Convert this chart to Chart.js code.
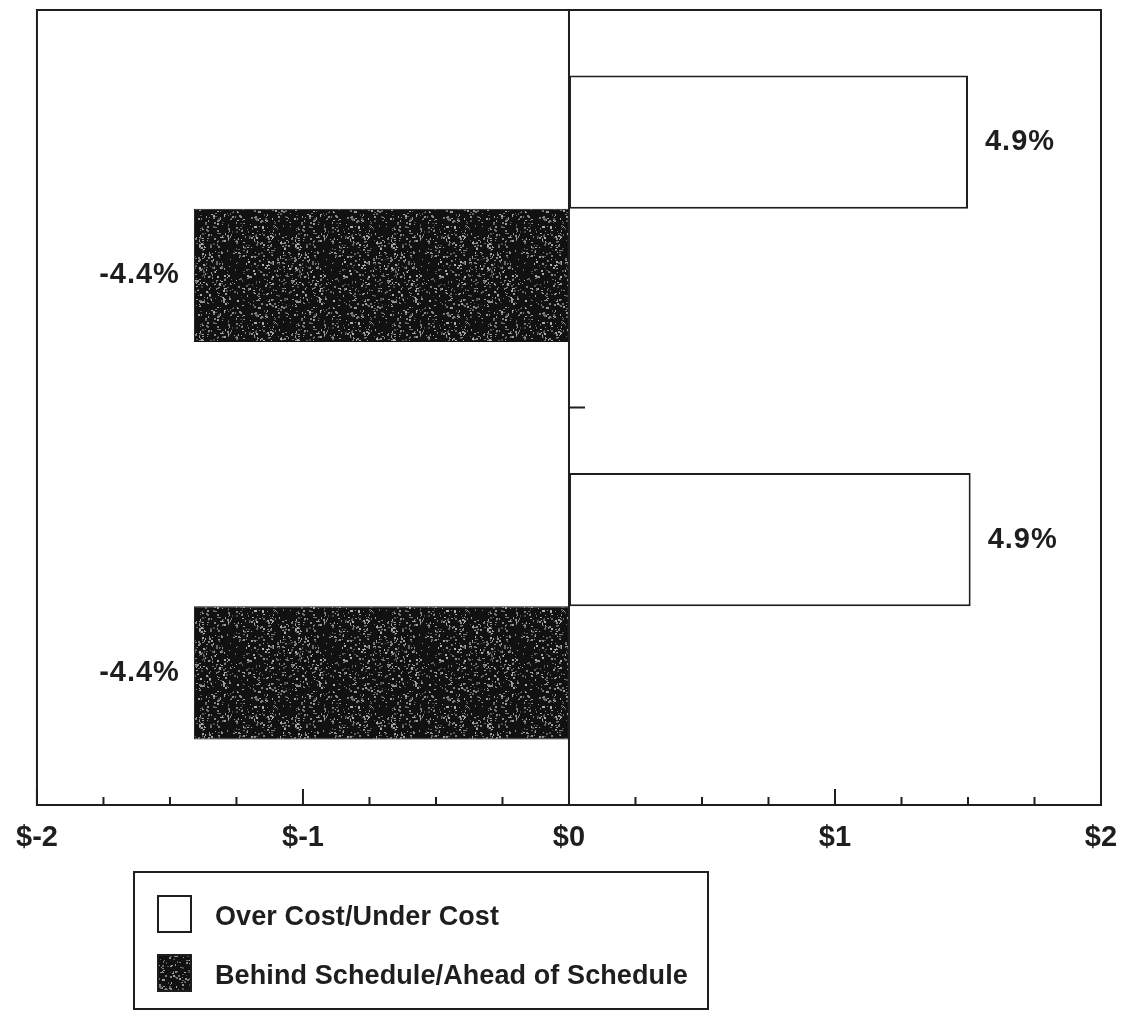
<!DOCTYPE html>
<html>
<head>
<meta charset="utf-8">
<script src="https://cdn.jsdelivr.net/npm/chart.js@4/dist/chart.umd.min.js"></script>
<style>
  html, body { margin: 0; padding: 0; background: #ffffff; }
  #wrap { width: 1135px; height: 1010px; position: relative; }
</style>
</head>
<body>
<div id="wrap"><canvas id="chart" width="1135" height="1010"></canvas></div>
<script>
// Two groups; each has a cost variance bar and a schedule variance bar (in $).
const categories = ['Group 1', 'Group 2'];
const costValues = [1.50, 1.51];
const scheduleValues = [-1.41, -1.41];
const costLabels = ['4.9%', '4.9%'];
const scheduleLabels = ['-4.4%', '-4.4%'];
const seriesNames = ['Over Cost/Under Cost', 'Behind Schedule/Ahead of Schedule'];
const tickLabels = { '-2': '$-2', '-1': '$-1', '0': '$0', '1': '$1', '2': '$2' };

const FONT = "'Liberation Sans', Arial, Helvetica, sans-serif";
const INK = '#1e1e1e';

// Speckled dark fill used for the schedule bars and its legend swatch.
function speckle() {
  const c = document.createElement('canvas');
  c.width = 96; c.height = 96;
  const g = c.getContext('2d');
  g.fillStyle = '#111111';
  g.fillRect(0, 0, 96, 96);
  let s = 12345;
  const rnd = () => { s = (s * 1103515245 + 12345) & 0x7fffffff; return s / 0x7fffffff; };
  for (let i = 0; i < 700; i++) {
    const v = 70 + Math.floor(rnd() * 110);
    g.fillStyle = 'rgb(' + v + ',' + v + ',' + v + ')';
    g.fillRect(Math.floor(rnd() * 96), Math.floor(rnd() * 96), 1 + Math.floor(rnd() * 2), 1 + Math.floor(rnd() * 2));
  }
  return c;
}
const ctx0 = document.getElementById('chart').getContext('2d');
const darkFill = ctx0.createPattern(speckle(), 'repeat');

// Frame, inner tick marks, zero line, value labels and the boxed legend.
const decorations = {
  id: 'decorations',
  afterDatasetsDraw(chart) {
    const { ctx, chartArea: a, scales: { x, y } } = chart;
    ctx.save();
    ctx.strokeStyle = INK;
    ctx.lineWidth = 2;
    ctx.strokeRect(a.left, a.top, a.right - a.left, a.bottom - a.top);

    // zero line
    const x0 = x.getPixelForValue(0);
    ctx.beginPath();
    ctx.moveTo(x0, a.top); ctx.lineTo(x0, a.bottom);
    ctx.stroke();

    // quarter-dollar ticks pointing into the plot
    for (let v = -2; v <= 2.0001; v += 0.25) {
      const px = x.getPixelForValue(v);
      const major = Math.abs(v - Math.round(v)) < 1e-6;
      const len = major ? 16 : 8;
      ctx.beginPath();
      ctx.moveTo(px, a.bottom); ctx.lineTo(px, a.bottom - len);
      ctx.stroke();
    }

    // category divider tick on the zero line
    for (let i = 0; i < categories.length - 1; i++) {
      const py = (y.getPixelForValue(i) + y.getPixelForValue(i + 1)) / 2;
      ctx.beginPath();
      ctx.moveTo(x0, py); ctx.lineTo(x0 + 16, py);
      ctx.stroke();
    }

    // value labels
    ctx.fillStyle = INK;
    ctx.font = 'bold 29px ' + FONT;
    ctx.letterSpacing = '1px';
    ctx.textBaseline = 'middle';
    const labelSets = [costLabels, scheduleLabels];
    chart.data.datasets.forEach((ds, di) => {
      chart.getDatasetMeta(di).data.forEach((el, i) => {
        const val = ds.data[i];
        if (val >= 0) {
          ctx.textAlign = 'left';
          ctx.fillText(labelSets[di][i], el.x + 17, el.y);
        } else {
          ctx.textAlign = 'right';
          ctx.fillText(labelSets[di][i], el.x - 14, el.y);
        }
      });
    });
    ctx.restore();
  },
  afterDraw(chart) {
    const { ctx } = chart;
    ctx.save();
    ctx.strokeStyle = INK;
    ctx.lineWidth = 2;
    ctx.strokeRect(134, 872, 574, 137);

    const fills = ['#ffffff', darkFill];
    const rows = [914, 973];
    ctx.font = 'bold 27px ' + FONT;
    ctx.letterSpacing = '0.1px';
    ctx.textBaseline = 'middle';
    ctx.textAlign = 'left';
    seriesNames.forEach((name, i) => {
      ctx.fillStyle = fills[i];
      ctx.fillRect(158, rows[i] - 18, 33, 36);
      ctx.strokeRect(158, rows[i] - 18, 33, 36);
      ctx.fillStyle = INK;
      ctx.fillText(name, 215, rows[i] + 4);
    });
    ctx.restore();
  }
};

new Chart(ctx0, {
  type: 'bar',
  data: {
    labels: categories,
    datasets: [
      {
        label: seriesNames[0],
        data: costValues,
        backgroundColor: '#ffffff',
        borderColor: INK,
        borderWidth: 2,
        borderSkipped: false
      },
      {
        label: seriesNames[1],
        data: scheduleValues,
        backgroundColor: darkFill,
        borderColor: '#111111',
        borderWidth: 1,
        borderSkipped: false
      }
    ]
  },
  options: {
    indexAxis: 'y',
    responsive: false,
    animation: false,
    datasets: { bar: { categoryPercentage: 0.67, barPercentage: 1.0 } },
    layout: { padding: { left: 35, right: 34, top: 10, bottom: 0 } },
    plugins: { legend: { display: false }, tooltip: { enabled: false } },
    scales: {
      x: {
        type: 'linear',
        min: -2,
        max: 2,
        grid: { display: false, drawTicks: false },
        border: { display: false },
        ticks: {
          stepSize: 1,
          maxRotation: 0,
          padding: 16,
          color: INK,
          font: { family: FONT, size: 29, weight: 'bold' },
          callback: (v) => tickLabels[String(v)] || ''
        },
        afterFit(scale) { scale.height = 205; }
      },
      y: {
        type: 'category',
        display: false,
        offset: true
      }
    }
  },
  plugins: [decorations]
});
</script>
</body>
</html>
